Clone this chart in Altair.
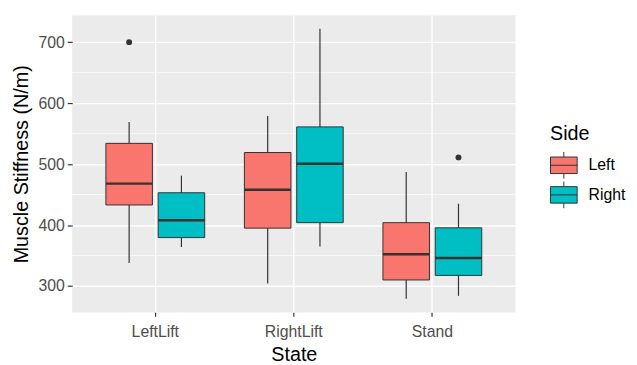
import altair as alt
import pandas as pd

# ---- data ----
states = ["LeftLift", "LeftLift", "RightLift", "RightLift", "Stand", "Stand"]
sides = ["Left", "Right", "Left", "Right", "Left", "Right"]
whisker_lo = [338, 364, 304, 365, 279, 284]
q1 = [433, 379.5, 395, 404, 310, 317.5]
median = [468, 408, 458, 500.6, 352, 346]
q3 = [534, 453, 519, 561, 404, 395.5]
whisker_hi = [569, 481, 579, 722, 487, 435]

outlier_state = ["LeftLift", "Stand"]
outlier_side = ["Left", "Right"]
outlier_value = [700, 511]

state_order = ["LeftLift", "RightLift", "Stand"]
side_order = ["Left", "Right"]
side_colors = ["#F8766D", "#00BFC4"]
y_ticks = [300, 400, 500, 600, 700]
y_minor = [350, 450, 550, 650]

boxes = pd.DataFrame({
    "State": states, "Side": sides, "lo": whisker_lo, "q1": q1,
    "median": median, "q3": q3, "hi": whisker_hi,
})
outliers = pd.DataFrame({"State": outlier_state, "Side": outlier_side, "value": outlier_value})
minor = pd.DataFrame({"v": y_minor})

all_vals = whisker_lo + whisker_hi + outlier_value
lo_v, hi_v = min(all_vals), max(all_vals)
pad = 0.05 * (hi_v - lo_v)
ydom = [lo_v - pad, hi_v + pad]

FONT = "Liberation Sans"
W, H = 449, 301

yscale = alt.Scale(domain=ydom, nice=False, zero=False)
xscale = alt.Scale(domain=state_order, paddingInner=0, paddingOuter=0.1)
xoff_scale = alt.Scale(domain=side_order, paddingInner=0.11, paddingOuter=0.38)

x_enc = alt.X("State:N", scale=xscale, sort=state_order,
              axis=alt.Axis(title="State", domain=False, grid=True, gridColor="white",
                            gridWidth=1.4, bandPosition=0.5, tickColor="#333333",
                            tickSize=4, tickWidth=1.2, labelColor="#4D4D4D",
                            labelFontSize=16, labelPadding=7, labelAngle=0,
                            titleFontSize=20, titleColor="black",
                            titleFontWeight="normal", titlePadding=6))
xo_enc = alt.XOffset("Side:N", scale=xoff_scale, sort=side_order)

minor_grid = alt.Chart(minor).mark_rule(color="white", strokeWidth=0.7).encode(
    y=alt.Y("v:Q", scale=yscale,
            axis=alt.Axis(title="Muscle Stiffness (N/m)", values=y_ticks, domain=False,
                          grid=True, gridColor="white", gridWidth=1.4,
                          tickColor="#333333", tickSize=5, tickWidth=1.2,
                          labelColor="#4D4D4D", labelFontSize=16, labelPadding=3,
                          titleFontSize=20, titleColor="black",
                          titleFontWeight="normal", titlePadding=7))
)

whiskers = alt.Chart(boxes).mark_rule(color="#333333", strokeWidth=1.2).encode(
    x=x_enc, xOffset=xo_enc,
    y=alt.Y("lo:Q", scale=yscale), y2="hi:Q",
)

box = alt.Chart(boxes).mark_bar(stroke="#333333", strokeWidth=1, opacity=1).encode(
    x=x_enc, xOffset=xo_enc,
    y=alt.Y("q1:Q", scale=yscale), y2="q3:Q",
    fill=alt.Fill("Side:N", scale=alt.Scale(domain=side_order, range=side_colors),
                  legend=alt.Legend(
                      title="Side", orient="none", legendX=484, legendY=110,
                      padding=0, titleFontSize=20, titleColor="black",
                      titleFontWeight="normal", titlePadding=8,
                      labelFontSize=16, labelColor="black", labelOffset=11,
                      symbolType="M-1,-0.62H1V0.62H-1Z M-1,0H1 M0,-0.62V-1 M0,0.62V1",
                      symbolSize=729, symbolStrokeColor="#333333",
                      symbolStrokeWidth=1, symbolOpacity=1, rowPadding=-2)),
)

med = alt.Chart(boxes).mark_tick(color="#333333", size=47, thickness=2.5, opacity=1).encode(
    x=x_enc, xOffset=xo_enc,
    y=alt.Y("median:Q", scale=yscale),
)

pts = alt.Chart(outliers).mark_circle(color="#333333", size=36, opacity=1).encode(
    x=x_enc, xOffset=xo_enc,
    y=alt.Y("value:Q", scale=yscale),
)

chart = alt.layer(minor_grid, whiskers, box, med, pts).properties(
    width=W, height=H,
    autosize=alt.AutoSizeParams(type="none"),
    padding={"left": 65, "top": 5, "right": 115, "bottom": 51},
    background="white",
).configure(font=FONT).configure_view(fill="#EBEBEB", stroke=None)

chart.save("out.html", embed_options={"renderer": "svg", "actions": False})
